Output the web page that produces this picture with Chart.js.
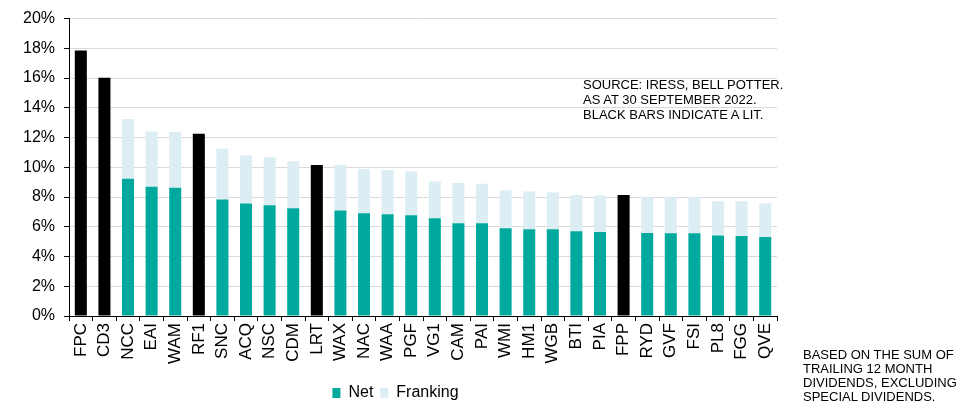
<!DOCTYPE html>
<html lang="en">
<head>
  <meta charset="UTF-8">
  <title>Dividend yield</title>
  <script src="https://cdn.jsdelivr.net/npm/chart.js@4"></script>
  <style>
    body { margin: 0; background: #fff; font-family: 'Liberation Sans', Arial, sans-serif; }
    #wrap { position: relative; width: 965px; height: 406px; }
    #box { position: absolute; left: 0; top: 0; width: 815px; height: 406px; }
    .note { position: absolute; color: #000; font-size: 13px; line-height: 15px; white-space: nowrap; }
    #source { left: 583px; top: 77px; }
    #basis { left: 803px; top: 348px; line-height: 14px; }
  </style>
</head>
<body>
  <div id="wrap">
    <div id="box"><canvas id="chart"></canvas></div>
    <div class="note" id="source">SOURCE: IRESS, BELL POTTER.<br>AS AT 30 SEPTEMBER 2022.<br>BLACK BARS INDICATE A LIT.</div>
    <div class="note" id="basis">BASED ON THE SUM OF<br>TRAILING 12 MONTH<br>DIVIDENDS, EXCLUDING<br>SPECIAL DIVIDENDS.</div>
  </div>

  <script>
    const codes = ['FPC','CD3','NCC','EAI','WAM','RF1','SNC','ACQ','NSC','CDM','LRT','WAX','NAC','WAA','PGF',
                   'VG1','CAM','PAI','WMI','HM1','WGB','BTI','PIA','FPP','RYD','GVF','FSI','PL8','FGG','QVE'];
    // black bars: LITs, gross yield only
    const lit = [17.86, 16.03, null, null, null, 12.25, null, null, null, null, 10.16, null, null, null, null,
                 null, null, null, null, null, null, null, null, 8.13, null, null, null, null, null, null];
    const net = [null, null, 9.23, 8.69, 8.62, null, 7.84, 7.57, 7.45, 7.25, null, 7.09, 6.91, 6.84, 6.78,
                 6.57, 6.24, 6.24, 5.90, 5.83, 5.83, 5.70, 5.65, null, 5.58, 5.56, 5.56, 5.41, 5.38, 5.31];
    const gross = [null, null, 13.24, 12.41, 12.38, null, 11.24, 10.81, 10.68, 10.41, null, 10.16, 9.89, 9.82, 9.73,
                   9.05, 8.94, 8.89, 8.45, 8.38, 8.33, 8.13, 8.11, null, 7.99, 7.99, 7.99, 7.72, 7.72, 7.59];
    const franking = gross.map((g, i) => g == null ? null : +(g - net[i]).toFixed(2));
    const yTicks = [0, 2, 4, 6, 8, 10, 12, 14, 16, 18, 20];

    new Chart(document.getElementById('chart'), {
      type: 'bar',
      data: {
        labels: codes,
        datasets: [
          { label: 'LIT', data: lit, backgroundColor: '#000000', stack: 's' },
          { label: 'Net', data: net, backgroundColor: '#00A99D', stack: 's' },
          { label: 'Franking', data: franking, backgroundColor: '#DCEEF4', stack: 's' }
        ]
      },
      options: {
        responsive: true,
        maintainAspectRatio: false,
        animation: false,
        layout: { padding: { top: 17, right: 38, left: 14, bottom: -5 } },
        datasets: { bar: { categoryPercentage: 1, barPercentage: 0.51 } },
        plugins: {
          tooltip: { enabled: false },
          legend: {
            position: 'bottom',
            labels: {
              filter: item => item.text !== 'LIT',
              boxWidth: 8, boxHeight: 10, padding: 7,
              color: '#000', font: { family: 'Liberation Sans', size: 16 }
            }
          }
        },
        scales: {
          x: {
            stacked: true,
            afterFit: axis => { axis.height = 62; },
            grid: { display: true, drawOnChartArea: false, offset: true, color: '#000', tickLength: 5 },
            border: { color: '#000', width: 1 },
            ticks: { color: '#000', font: { family: 'Liberation Sans', size: 17 },
                     minRotation: 90, maxRotation: 90, autoSkip: false, padding: 2 }
          },
          y: {
            stacked: true,
            min: 0, max: 20,
            afterBuildTicks: axis => { axis.ticks = yTicks.map(v => ({ value: v })); },
            grid: { color: '#D9D9D9', tickColor: '#000', tickLength: 5 },
            border: { color: '#000', width: 1 },
            ticks: { color: '#000', font: { family: 'Liberation Sans', size: 16 }, padding: 9,
                     callback: v => v + '%' }
          }
        }
      }
    });
  </script>
</body>
</html>
